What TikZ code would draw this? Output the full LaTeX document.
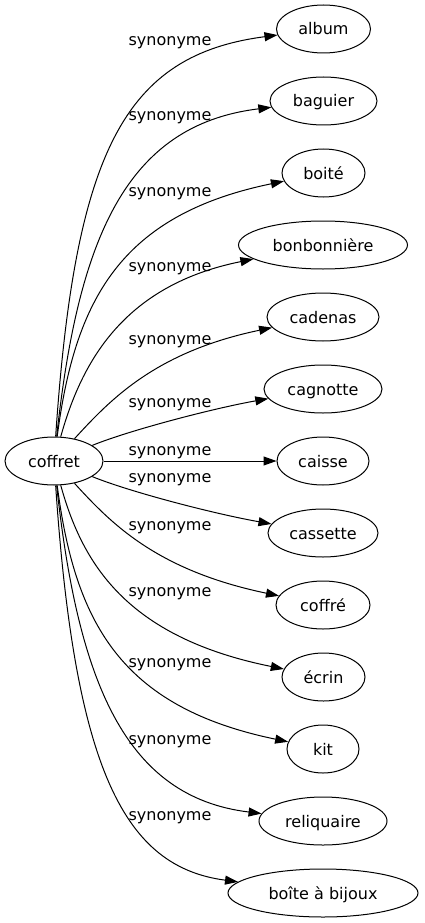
\documentclass[tikz,border=0pt]{standalone}
\usepackage{fontspec}
\setmainfont{DejaVu Sans}
\usetikzlibrary{arrows.meta,shapes.geometric}
\begin{document}
\begin{tikzpicture}[x=1pt,y=-1pt,
  word/.style={ellipse,draw,line width=1pt,inner sep=0pt,minimum height=48pt,
    text height=12pt,text depth=0pt,font=\fontsize{16}{19}\selectfont},
  rel/.style={anchor=base,inner sep=0pt,font=\fontsize{16}{19}\selectfont},
  link/.style={draw,line width=1pt,-{Triangle[length=13pt,width=9pt]}}]
\useasboundingbox (0,0) rectangle (424,923);
\node[word,minimum width=98pt] (coffret) at (54,461) {coffret};
\node[word,minimum width=94pt] (album) at (323.5,29) {album};
\node[word,minimum width=107pt] (baguier) at (323.5,101) {baguier};
\node[word,minimum width=83pt] (boite) at (323.5,173) {boité};
\node[word,minimum width=169pt] (bonbon) at (323,245) {bonbonnière};
\node[word,minimum width=112pt] (cadenas) at (323,317) {cadenas};
\node[word,minimum width=118pt] (cagnotte) at (323,389) {cagnotte};
\node[word,minimum width=92pt] (caisse) at (323,461) {caisse};
\node[word,minimum width=110pt] (cassette) at (323,533) {cassette};
\node[word,minimum width=94pt] (coffre) at (323,605) {coffré};
\node[word,minimum width=83pt] (ecrin) at (323.5,677) {écrin};
\node[word,minimum width=72pt] (kit) at (323,749) {kit};
\node[word,minimum width=128pt] (reliq) at (323,821) {reliquaire};
\node[word,minimum width=190pt] (bijoux) at (323,893) {boîte à bijoux};

\node[rel] (l1) at (170,46) {synonyme};
\node[rel] (l2) at (170,120.5) {synonyme};
\node[rel] (l3) at (170,196) {synonyme};
\node[rel] (l4) at (170,271) {synonyme};
\node[rel] (l5) at (170,344.5) {synonyme};
\node[rel] (l6) at (170,407.5) {synonyme};
\node[rel] (l7) at (170,455) {synonyme};
\node[rel] (l8) at (170,482.5) {synonyme};
\node[rel] (l9) at (170,530) {synonyme};
\node[rel] (l10) at (170,596) {synonyme};
\node[rel] (l11) at (170,667.5) {synonyme};
\node[rel] (l12) at (170,744.5) {synonyme};
\node[rel] (l13) at (170,820.5) {synonyme};

\path[link] (coffret) .. controls (75,150) and (125,55) .. (album);
\path[link] (coffret) .. controls (78,240) and (125,125) .. (baguier);
\path[link] (coffret) .. controls (75,300) and (120,215) .. (boite);
\path[link] (coffret) .. controls (82,360) and (125,285) .. (bonbon);
\path[link] (coffret) .. controls (110,400) and (155,352) .. (cadenas);
\path[link] (coffret) .. controls (130,430) and (215,408) .. (cagnotte);
\path[link] (coffret) -- (caisse);
\path[link] (coffret) .. controls (130,492) and (215,514) .. (cassette);
\path[link] (coffret) .. controls (110,522) and (155,570) .. (coffre);
\path[link] (coffret) .. controls (82,562) and (125,637) .. (ecrin);
\path[link] (coffret) .. controls (75,622) and (120,707) .. (kit);
\path[link] (coffret) .. controls (78,682) and (125,797) .. (reliq);
\path[link] (coffret) .. controls (75,772) and (125,867) .. (bijoux);
\end{tikzpicture}
\end{document}
